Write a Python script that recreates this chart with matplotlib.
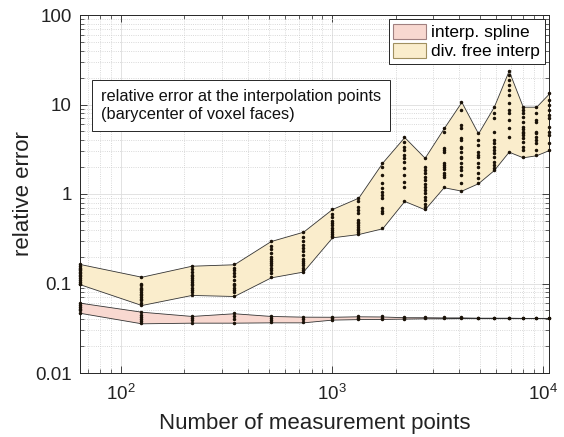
import matplotlib
matplotlib.use("Agg")
import matplotlib.pyplot as plt
from matplotlib.patches import Patch
from matplotlib.ticker import LogLocator, NullFormatter

plt.rcParams['font.family'] = ['Liberation Sans', 'DejaVu Sans']

# ---------------- data ----------------
n_points = [64, 125, 216, 343, 512, 729, 1000, 1331, 1728, 2197, 2744,
            3375, 4096, 4913, 5832, 6859, 8000, 9261, 10648]

div_upper = [0.165, 0.119, 0.158, 0.164, 0.298, 0.379, 0.68, 0.91, 2.24, 4.33,
             2.54, 5.42, 10.7, 4.76, 9.45, 23.9, 9.45, 9.45, 13.3]
div_lower = [0.098, 0.0575, 0.0745, 0.0725, 0.117, 0.136, 0.328, 0.357, 0.414,
             0.836, 0.675, 1.19, 1.09, 1.32, 1.85, 2.97, 2.57, 2.71, 3.10]

spline_upper = [0.061, 0.0484, 0.0434, 0.0465, 0.0434, 0.0426, 0.0425, 0.043,
                0.0428, 0.042, 0.042, 0.0418, 0.0418, 0.0415, 0.0415, 0.0415,
                0.0413, 0.0413, 0.0413]
spline_lower = [0.047, 0.0359, 0.0365, 0.0365, 0.0368, 0.0368, 0.0395, 0.040,
                0.0402, 0.0405, 0.0408, 0.0408, 0.041, 0.041, 0.041, 0.041,
                0.041, 0.041, 0.041]

div_dots = [
    [0.165, 0.155, 0.15, 0.145, 0.14, 0.135, 0.13, 0.125, 0.12, 0.115, 0.11, 0.105, 0.1, 0.098],
    [0.119, 0.1, 0.095, 0.09, 0.087, 0.085, 0.08, 0.077, 0.075, 0.07, 0.067, 0.065, 0.06, 0.0575],
    [0.158, 0.145, 0.135, 0.125, 0.12, 0.115, 0.11, 0.105, 0.1, 0.095, 0.09, 0.085, 0.08, 0.0745],
    [0.164, 0.15, 0.14, 0.13, 0.12, 0.11, 0.1, 0.095, 0.09, 0.085, 0.08, 0.0725],
    [0.298, 0.26, 0.24, 0.22, 0.2, 0.19, 0.18, 0.17, 0.16, 0.15, 0.14, 0.13, 0.117],
    [0.379, 0.33, 0.3, 0.27, 0.25, 0.23, 0.21, 0.19, 0.18, 0.17, 0.16, 0.15, 0.14, 0.136],
    [0.68, 0.6, 0.55, 0.5, 0.47, 0.45, 0.42, 0.4, 0.38, 0.36, 0.34, 0.328],
    [0.91, 0.84, 0.72, 0.66, 0.61, 0.51, 0.49, 0.47, 0.45, 0.43, 0.41, 0.395, 0.38, 0.357],
    [2.24, 2.02, 1.63, 1.32, 1.16, 1.06, 0.975, 0.895, 0.69, 0.65, 0.61, 0.414],
    [4.33, 3.84, 3.38, 3.1, 2.73, 2.5, 2.3, 1.94, 1.63, 1.37, 1.21, 0.836],
    [2.54, 2.02, 1.85, 1.70, 1.55, 1.43, 1.3, 1.21, 1.1, 1.02, 0.93, 0.857, 0.78, 0.72, 0.675],
    [5.42, 4.89, 3.24, 3.1, 2.97, 2.2, 2.1, 2.02, 1.9, 1.70, 1.63, 1.56, 1.19],
    [10.7, 8.7, 5.9, 5.42, 4.19, 4.0, 3.38, 3.24, 2.97, 2.61, 2.5, 2.2, 2.02, 1.85, 1.63, 1.32, 1.09],
    [4.76, 4.0, 3.53, 2.97, 2.75, 2.61, 2.2, 2.02, 1.70, 1.5, 1.32],
    [9.45, 7.97, 7.0, 4.97, 4.0, 3.7, 3.38, 3.1, 2.85, 2.6, 2.3, 2.1, 1.94, 1.85],
    [23.9, 21.4, 18.8, 16.5, 14.5, 12.8, 10.3, 8.7, 7.97, 6.7, 5.42, 4.37, 2.97],
    [9.45, 8.7, 7.97, 7.31, 6.43, 5.65, 5.3, 4.97, 4.76, 4.56, 4.2, 3.84, 3.38, 3.1, 2.57],
    [9.45, 7.97, 6.7, 6.43, 4.97, 4.76, 4.37, 4.0, 3.69, 3.1, 2.71],
    [13.3, 11.2, 9.86, 8.7, 7.64, 7.0, 5.65, 4.97, 4.56, 3.69, 3.10],
]

spline_dots = [
    [0.061, 0.058, 0.055, 0.052, 0.05, 0.047],
    [0.0484, 0.045, 0.042, 0.04, 0.038, 0.0359],
    [0.0434, 0.041, 0.039, 0.0365],
    [0.0465, 0.043, 0.04, 0.0365],
    [0.0434, 0.041, 0.039, 0.0368],
    [0.0426, 0.040, 0.0368],
    [0.0425, 0.041, 0.0395],
    [0.043, 0.0415, 0.040],
    [0.0428, 0.0415, 0.0402],
    [0.042, 0.0412, 0.0405],
    [0.042, 0.0408],
    [0.0418, 0.0408],
    [0.0418, 0.041],
    [0.0415, 0.041],
    [0.0415, 0.041],
    [0.0415, 0.041],
    [0.0413, 0.041],
    [0.0413, 0.041],
    [0.0413, 0.041],
]

y_ticks = [0.01, 0.1, 1, 10, 100]
y_tick_labels = ['0.01', '0.1', '1', '10', '100']
x_ticks = [100, 1000, 10000]
x_tick_labels = [r'$\mathregular{10^{2}}$', r'$\mathregular{10^{3}}$', r'$\mathregular{10^{4}}$']

legend_labels = ['interp. spline', 'div. free interp']
note_text = 'relative error at the interpolation points\n(barycenter of voxel faces)'

# ---------------- style ----------------
spline_face = '#F8D8D0'
div_face = '#FAEDCC'
axis_col = '#262626'

fig = plt.figure(figsize=(5.64, 4.37), dpi=100)
ax = fig.add_axes([80 / 564, 1 - 373 / 437, 469 / 564, 358 / 437])

ax.fill_between(n_points, spline_lower, spline_upper, facecolor=spline_face,
                edgecolor='#333333', linewidth=0.6, zorder=2)
ax.fill_between(n_points, div_lower, div_upper, facecolor=div_face,
                edgecolor='#333333', linewidth=0.6, zorder=2)

for xv, ys in zip(n_points, div_dots):
    ax.plot([xv] * len(ys), ys, linestyle='none', marker='.', markersize=3.0,
            color='#1a1208', zorder=3, clip_on=False)
for xv, ys in zip(n_points, spline_dots):
    ax.plot([xv] * len(ys), ys, linestyle='none', marker='.', markersize=3.0,
            color='#1a1208', zorder=3, clip_on=False)

ax.set_xscale('log')
ax.set_yscale('log')
ax.set_xlim(n_points[0], n_points[-1])
ax.set_ylim(y_ticks[0], y_ticks[-1])

ax.set_yticks(y_ticks)
ax.set_yticklabels(y_tick_labels)
ax.set_xticks(x_ticks)
ax.set_xticklabels(x_tick_labels)
ax.xaxis.set_minor_locator(LogLocator(base=10, subs=range(2, 10), numticks=20))
ax.yaxis.set_minor_locator(LogLocator(base=10, subs=range(2, 10), numticks=20))
ax.xaxis.set_minor_formatter(NullFormatter())
ax.yaxis.set_minor_formatter(NullFormatter())

ax.grid(True, which='major', color='#dddddd', linewidth=0.6, linestyle='-', zorder=0)
ax.grid(True, which='minor', color='#cccccc', linewidth=0.6, linestyle=':', zorder=0)
ax.set_axisbelow(True)

ax.tick_params(which='both', direction='in', top=True, right=True, colors=axis_col,
               labelcolor='#222222')
ax.tick_params(which='major', length=5, width=0.6, labelsize=13.5, pad=6)
ax.tick_params(which='minor', length=3, width=0.5)
ax.tick_params(axis='x', which='major', pad=8)
for s in ax.spines.values():
    s.set_color(axis_col)
    s.set_linewidth(0.7)

ax.set_xlabel('Number of measurement points', fontsize=16, color='#222222', labelpad=6)
ax.set_ylabel('relative error', fontsize=16, color='#222222', labelpad=1)

handles = [Patch(facecolor=spline_face, edgecolor='#a08080', linewidth=0.8),
           Patch(facecolor=div_face, edgecolor='#a09060', linewidth=0.8)]
leg = ax.legend(handles, legend_labels, loc='upper right', fontsize=12.5,
                frameon=True, fancybox=False, framealpha=1, borderpad=0.25,
                handlelength=1.9, handleheight=0.95, handletextpad=0.3,
                labelspacing=0.15, borderaxespad=0.25)
leg.get_frame().set_edgecolor(axis_col)
leg.get_frame().set_linewidth(0.7)

ax.text(0.044, 0.748, note_text, transform=ax.transAxes, fontsize=11.8,
        va='center', ha='left', color='#111111', linespacing=1.25,
        bbox=dict(boxstyle='square,pad=0.55', facecolor='white',
                  edgecolor=axis_col, linewidth=0.7), zorder=5)

fig.savefig('out.png', dpi=100)
